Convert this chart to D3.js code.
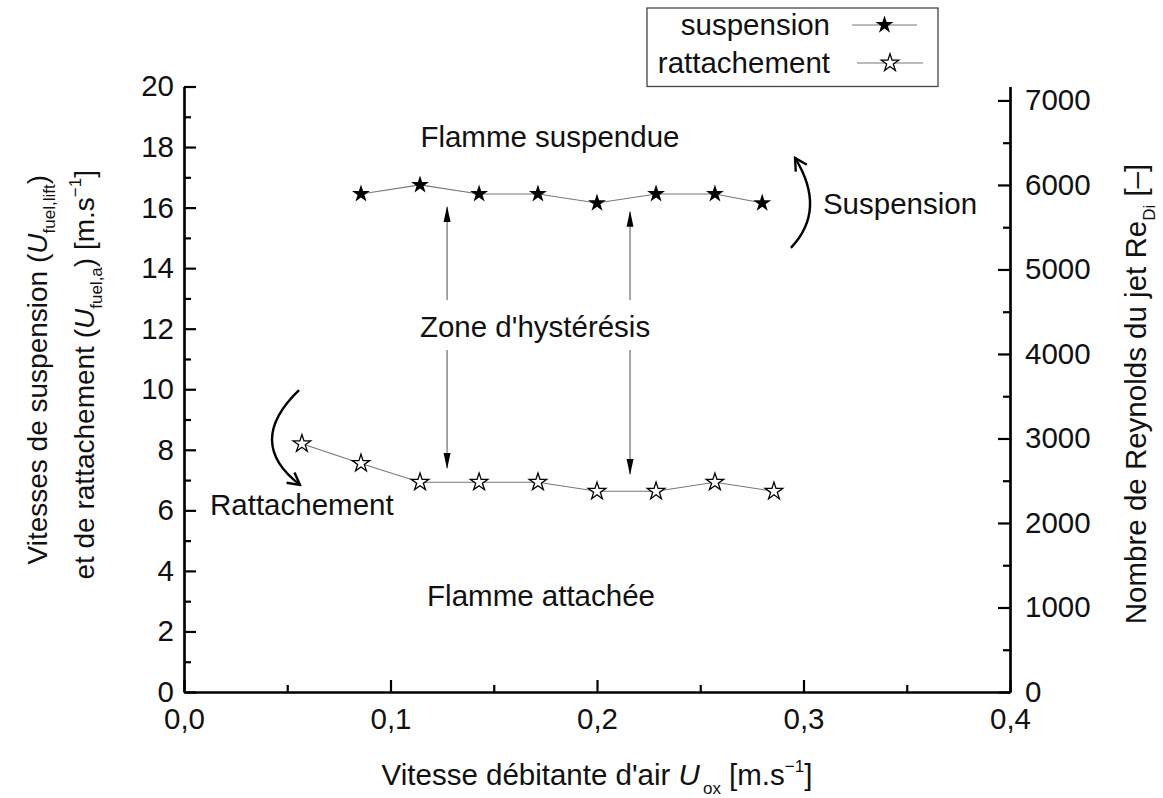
<!DOCTYPE html>
<html>
<head>
<meta charset="utf-8">
<script src="https://cdn.jsdelivr.net/npm/d3@7"></script>
<style>
  html, body { margin: 0; padding: 0; background: #fff; }
  svg { display: block; font-family: "Liberation Sans", Arial, sans-serif; }
</style>
</head>
<body>
<svg id="chart" width="1163" height="798"></svg>
<script>
// Air bulk velocity U_ox [m/s] for each measurement
const uoxLift = [0.0857, 0.1143, 0.1429, 0.1714, 0.2, 0.2286, 0.2571, 0.28];
const uoxAttach = [0.0571, 0.0857, 0.1143, 0.1429, 0.1714, 0.2, 0.2286, 0.2571, 0.2857];
// Lift-off (suspension) and reattachment fuel velocities [m/s]
const uLift = [16.45, 16.75, 16.45, 16.45, 16.15, 16.45, 16.45, 16.15];
const uAttach = [8.2, 7.55, 6.93, 6.93, 6.93, 6.63, 6.63, 6.93, 6.63];

const seriesNames = ["suspension", "rattachement"];
const xTicks = [0, 0.1, 0.2, 0.3, 0.4];
const xMinor = [0.05, 0.15, 0.25, 0.35];
const yTicks = [0, 2, 4, 6, 8, 10, 12, 14, 16, 18, 20];
const yMinor = [1, 3, 5, 7, 9, 11, 13, 15, 17, 19];
const reTicks = [0, 1000, 2000, 3000, 4000, 5000, 6000, 7000];
const reMinor = [500, 1500, 2500, 3500, 4500, 5500, 6500];

const plot = { left: 184, right: 1010, top: 86.5, bottom: 692 };
const FS = 29.5;

const svg = d3.select("#chart");
const x = d3.scaleLinear().domain([0, 0.4]).range([plot.left, plot.right]);
const y = d3.scaleLinear().domain([0, 20]).range([plot.bottom, plot.top]);
const yRe = d3.scaleLinear().domain([0, 7165]).range([plot.bottom, plot.top]);

const fmtX = v => d3.format(".1f")(v).replace(".", ",");

// axes, ticks pointing inward
function styleAxis(g) {
  g.selectAll("path.domain").attr("stroke", "#000").attr("stroke-width", 2.2);
  g.selectAll(".tick line").attr("stroke", "#000").attr("stroke-width", 2.2);
  g.selectAll(".tick text").attr("font-size", FS).attr("fill", "#111")
    .attr("font-family", "Liberation Sans, Arial, sans-serif");
}

svg.append("g").attr("transform", `translate(0,${plot.bottom})`)
  .call(d3.axisBottom(x).tickValues(xMinor).tickSize(-7).tickSizeOuter(0).tickFormat(""))
  .call(styleAxis);
svg.append("g").attr("transform", `translate(0,${plot.bottom})`)
  .call(d3.axisBottom(x).tickValues(xTicks).tickSize(-12).tickSizeOuter(0).tickPadding(16).tickFormat(fmtX))
  .call(styleAxis);

svg.append("g").attr("transform", `translate(${plot.left},0)`)
  .call(d3.axisLeft(y).tickValues(yMinor).tickSize(-7).tickSizeOuter(0).tickFormat(""))
  .call(styleAxis);
svg.append("g").attr("transform", `translate(${plot.left},0)`)
  .call(d3.axisLeft(y).tickValues(yTicks).tickSize(-12).tickSizeOuter(0).tickPadding(10).tickFormat(d3.format("d")))
  .call(styleAxis);

svg.append("g").attr("transform", `translate(${plot.right},0)`)
  .call(d3.axisRight(yRe).tickValues(reMinor).tickSize(-7).tickSizeOuter(0).tickFormat(""))
  .call(styleAxis);
svg.append("g").attr("transform", `translate(${plot.right},0)`)
  .call(d3.axisRight(yRe).tickValues(reTicks).tickSize(-12).tickSizeOuter(0).tickPadding(15).tickFormat(d3.format("d")))
  .call(styleAxis);

// series
const line = d3.line().x(d => x(d[0])).y(d => y(d[1]));
const liftPts = uoxLift.map((v, i) => [v, uLift[i]]);
const attPts = uoxAttach.map((v, i) => [v, uAttach[i]]);

svg.append("path").datum(liftPts).attr("d", line)
  .attr("fill", "none").attr("stroke", "#777").attr("stroke-width", 1.1);
svg.append("path").datum(attPts).attr("d", line)
  .attr("fill", "none").attr("stroke", "#777").attr("stroke-width", 1.1);

const starFilled = d3.symbol().type(d3.symbolStar).size(100);
const starHollow = d3.symbol().type(d3.symbolStar).size(95);

svg.append("g").selectAll("path").data(liftPts).join("path")
  .attr("transform", d => `translate(${x(d[0])},${y(d[1])})`)
  .attr("d", starFilled).attr("fill", "#000");
svg.append("g").selectAll("path").data(attPts).join("path")
  .attr("transform", d => `translate(${x(d[0])},${y(d[1])})`)
  .attr("d", starHollow).attr("fill", "#fff").attr("stroke", "#000").attr("stroke-width", 1.3);

// arrowhead markers
const defs = svg.append("defs");
defs.append("marker").attr("id", "tri").attr("viewBox", "0 0 16 8")
  .attr("refX", 15).attr("refY", 4).attr("markerWidth", 16).attr("markerHeight", 8)
  .attr("markerUnits", "userSpaceOnUse").attr("orient", "auto")
  .append("path").attr("d", "M0,0.5 L16,4 L0,7.5 Z").attr("fill", "#000");
defs.append("marker").attr("id", "chev").attr("viewBox", "0 0 16 16")
  .attr("refX", 14).attr("refY", 8).attr("markerWidth", 16).attr("markerHeight", 16)
  .attr("markerUnits", "userSpaceOnUse").attr("orient", "auto")
  .append("path").attr("d", "M2,1.5 L14,8 L2,14.5").attr("fill", "none")
  .attr("stroke", "#000").attr("stroke-width", 2.4).attr("stroke-linejoin", "miter");

// hysteresis arrows: [x, from, to] in data units
const hystArrows = [
  [0.1274, 12.95, 16.02],
  [0.1274, 11.3, 7.4],
  [0.216, 12.95, 15.86],
  [0.216, 11.3, 7.2]
];
svg.append("g").selectAll("line").data(hystArrows).join("line")
  .attr("x1", d => x(d[0])).attr("x2", d => x(d[0]))
  .attr("y1", d => y(d[1])).attr("y2", d => y(d[2]))
  .attr("stroke", "#777").attr("stroke-width", 1.3)
  .attr("marker-end", "url(#tri)");

// curved transition arrows: start, control, end in data units
const curved = [
  [[0.2939, 14.67], [0.3114, 15.92], [0.2959, 17.64]],
  [[0.0557, 9.97], [0.0293, 8.24], [0.0562, 6.84]]
];
svg.append("g").selectAll("path").data(curved).join("path")
  .attr("d", d => `M${x(d[0][0])},${y(d[0][1])} Q${x(d[1][0])},${y(d[1][1])} ${x(d[2][0])},${y(d[2][1])}`)
  .attr("fill", "none").attr("stroke", "#000").attr("stroke-width", 2.4)
  .attr("marker-end", "url(#chev)");

// region / transition labels
const labels = [
  { t: "Flamme suspendue", x: 0.1772, y: 18.0, a: "middle" },
  { t: "Suspension", x: 0.3094, y: 15.79, a: "start" },
  { t: "Zone d'hystérésis", x: 0.170, y: 11.73, a: "middle" },
  { t: "Rattachement", x: 0.0126, y: 5.85, a: "start" },
  { t: "Flamme attachée", x: 0.1729, y: 2.84, a: "middle" }
];
svg.append("g").selectAll("text").data(labels).join("text")
  .attr("x", d => x(d.x)).attr("y", d => y(d.y))
  .attr("text-anchor", d => d.a).attr("font-size", FS).attr("fill", "#111")
  .text(d => d.t);

// axis titles
const SUB = 17;
const xt = svg.append("text").attr("x", 597).attr("y", 785)
  .attr("text-anchor", "middle").attr("font-size", FS).attr("fill", "#111");
xt.append("tspan").text("Vitesse débitante d'air ");
xt.append("tspan").attr("font-style", "italic").text("U");
xt.append("tspan").attr("font-size", SUB).attr("dy", 9).attr("dx", 3).text("ox");
xt.append("tspan").attr("dy", -9).text(" [m.s");
xt.append("tspan").attr("font-size", SUB).attr("dy", -13).text("−1");
xt.append("tspan").attr("dy", 13).text("]");

const LF = 28;
const yt1 = svg.append("text").attr("transform", "translate(47,175) rotate(-90)")
  .attr("text-anchor", "end").attr("font-size", LF).attr("fill", "#111");
yt1.append("tspan").text("Vitesses de suspension (");
yt1.append("tspan").attr("font-style", "italic").text("U");
yt1.append("tspan").attr("font-size", SUB).attr("dy", 8).text("fuel,lift");
yt1.append("tspan").attr("dy", -8).text(")");

const yt2 = svg.append("text").attr("transform", "translate(94,170) rotate(-90)")
  .attr("text-anchor", "end").attr("font-size", LF).attr("fill", "#111");
yt2.append("tspan").text("et de rattachement (");
yt2.append("tspan").attr("font-style", "italic").text("U");
yt2.append("tspan").attr("font-size", SUB).attr("dy", 8).text("fuel,a");
yt2.append("tspan").attr("dy", -8).text(") [m.s");
yt2.append("tspan").attr("font-size", SUB).attr("dy", -13).text("−1");
yt2.append("tspan").attr("dy", 13).text("]");

const yt3 = svg.append("text").attr("transform", "translate(1146,394) rotate(-90)")
  .attr("text-anchor", "middle").attr("font-size", FS).attr("fill", "#111");
yt3.append("tspan").text("Nombre de Reynolds du jet Re");
yt3.append("tspan").attr("font-size", SUB).attr("dy", 9).text("Di");
yt3.append("tspan").attr("dy", -9).text(" [–]");

// legend
const lg = svg.append("g");
lg.append("rect").attr("x", 647).attr("y", 8).attr("width", 291).attr("height", 78.5)
  .attr("fill", "#fff").attr("stroke", "#444").attr("stroke-width", 1.3);
const legendRows = [
  { name: seriesNames[0], filled: true, ty: 35, sy: 25, x0: 852, x1: 917 },
  { name: seriesNames[1], filled: false, ty: 73, sy: 63, x0: 857, x1: 923 }
];
legendRows.forEach(r => {
  lg.append("text").attr("x", 830).attr("y", r.ty).attr("text-anchor", "end")
    .attr("font-size", FS).attr("fill", "#111").text(r.name);
  lg.append("line").attr("x1", r.x0).attr("x2", r.x1).attr("y1", r.sy).attr("y2", r.sy)
    .attr("stroke", "#777").attr("stroke-width", 1.1);
  lg.append("path").attr("transform", `translate(${(r.x0 + r.x1) / 2},${r.sy})`)
    .attr("d", r.filled ? starFilled : starHollow)
    .attr("fill", r.filled ? "#000" : "#fff").attr("stroke", r.filled ? "none" : "#000")
    .attr("stroke-width", 1.3);
});
</script>
</body>
</html>
